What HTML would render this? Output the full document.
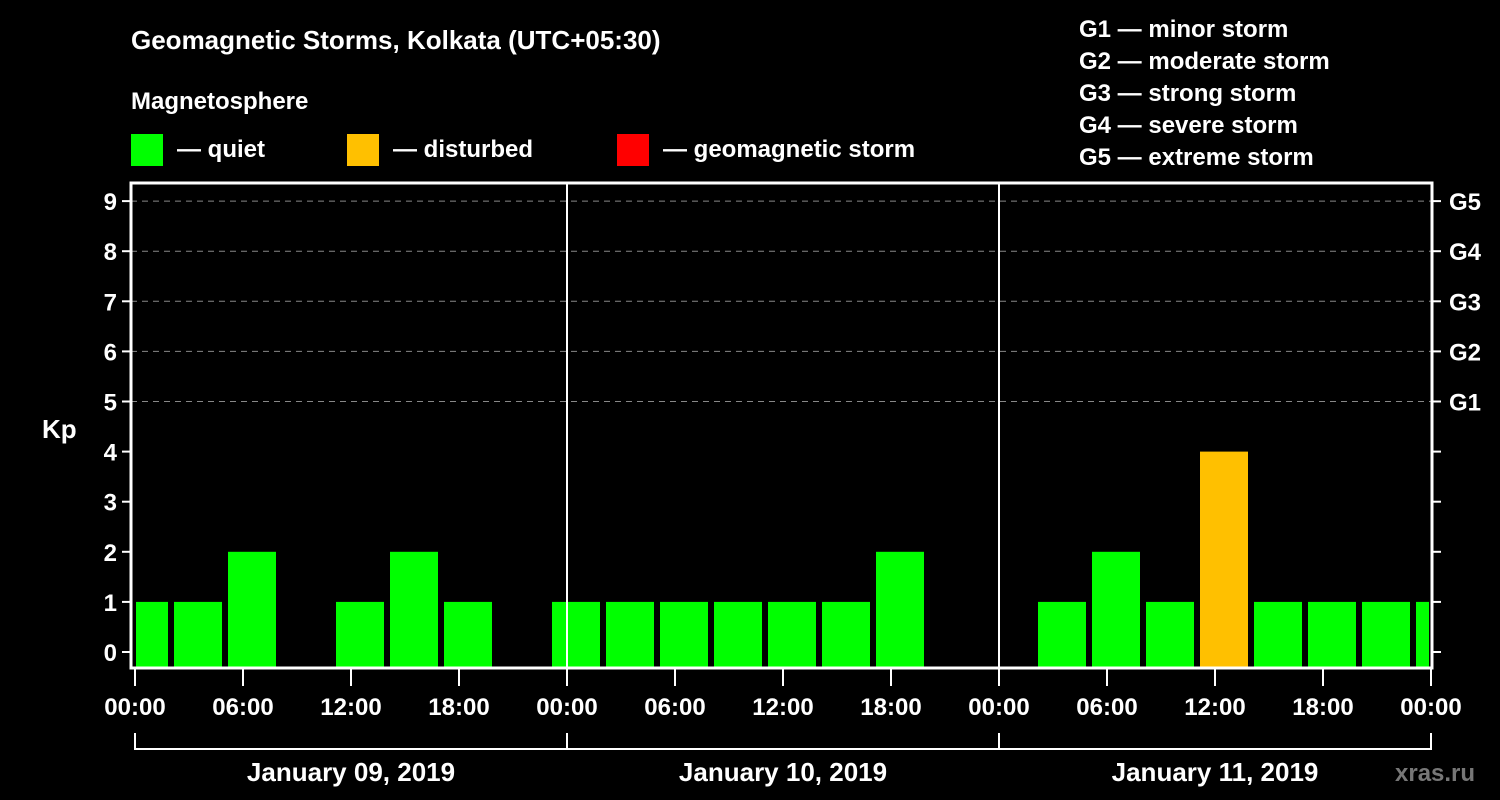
<!DOCTYPE html>
<html><head><meta charset="utf-8"><style>
html,body{margin:0;padding:0;background:#000;}
svg{display:block;font-family:"Liberation Sans",Arial,sans-serif;font-weight:bold;}
</style></head><body>
<svg id="chart" width="1500" height="800" viewBox="0 0 1500 800" xmlns="http://www.w3.org/2000/svg">
<rect x="0" y="0" width="1500" height="800" fill="#000"/>
<text x="131" y="49" fill="#fff" font-size="26">Geomagnetic Storms, Kolkata (UTC+05:30)</text>
<text x="131" y="109" fill="#fff" font-size="24">Magnetosphere</text>
<g><rect x="131" y="134" width="32" height="32" fill="#00ff00"/><text x="177" y="157" fill="#fff" font-size="24">— quiet</text></g>
<g><rect x="347" y="134" width="32" height="32" fill="#ffc000"/><text x="393" y="157" fill="#fff" font-size="24">— disturbed</text></g>
<g><rect x="617" y="134" width="32" height="32" fill="#ff0000"/><text x="663" y="157" fill="#fff" font-size="24">— geomagnetic storm</text></g>
<g fill="#fff" font-size="24">
<text x="1079" y="37">G1 — minor storm</text>
<text x="1079" y="69">G2 — moderate storm</text>
<text x="1079" y="101">G3 — strong storm</text>
<text x="1079" y="133">G4 — severe storm</text>
<text x="1079" y="165">G5 — extreme storm</text>
</g>
<text x="42" y="438" fill="#fff" font-size="26">Kp</text>
<text x="1395" y="781" fill="#777" font-size="24">xras.ru</text>
<g id="plot"></g>
</svg>
<script>
const kpValues = [1,1,2,0,1,2,1,0, 1,1,1,1,1,1,2,0,0, 1,2,1,4,1,1,1,1];
const startHour = -1; // first interval starts 1h before Jan 09 00:00 local
const stepHours = 3;
const dayLabels = ["January 09, 2019","January 10, 2019","January 11, 2019"];
const yTicks = [0,1,2,3,4,5,6,7,8,9];
const gLabels = ["G1","G2","G3","G4","G5"];
const gLevels = [5,6,7,8,9];
const xTickLabels = ["00:00","06:00","12:00","18:00"];

const NS="http://www.w3.org/2000/svg";
const plot=document.getElementById('plot');
const X0=135, DAYW=432, totalHours=72;
const xH=h=>X0+h*DAYW/24;
const yK=k=>652-k*50.1;
const L=131,R=1432,T=183,B=668;
function mk(tag,attrs,parent){const e=document.createElementNS(NS,tag);for(const k in attrs)e.setAttribute(k,attrs[k]);(parent||plot).appendChild(e);return e;}
function color(k){return k>=5?"#ff0000":(k>=4?"#ffc000":"#00ff00");}

// grid
gLevels.forEach(k=>{
  const l=mk('line',{x1:L,x2:R,y1:yK(k),y2:yK(k),stroke:'#888','stroke-width':1,'stroke-dasharray':'6,5'});
  
  
});
// bars
kpValues.forEach((v,i)=>{
  if(!v) return;
  let h0=startHour+i*stepHours, h1=h0+stepHours;
  let x0=xH(h0)+3, x1=xH(h1)-3;
  x0=Math.max(x0,xH(0)+1); x1=Math.min(x1,xH(totalHours)-2);
  const r=mk('rect',{x:x0,y:yK(v),width:x1-x0,height:B-yK(v),fill:color(v)});
  
  
});
// day separators
[1,2].forEach(d=>{
  const l=mk('line',{x1:xH(d*24),x2:xH(d*24),y1:T,y2:B,stroke:'#fff','stroke-width':2});
  
  
});
// frame
const fr=mk('rect',{x:L,y:T,width:R-L,height:B-T,fill:'none',stroke:'#fff','stroke-width':3});


// y ticks + labels
yTicks.forEach(k=>{
  const y=yK(k);
  mk('line',{x1:L-9,x2:L,y1:y,y2:y,stroke:'#fff','stroke-width':2});
  mk('line',{x1:R,x2:R+9,y1:y,y2:y,stroke:'#fff','stroke-width':2});
  const t=mk('text',{x:117,y:y+9,fill:'#fff','font-size':24,'text-anchor':'end'});
  t.textContent=k;
  
  
});
gLevels.forEach((k,i)=>{
  const t=mk('text',{x:1449,y:yK(k)+9,fill:'#fff','font-size':24});
  t.textContent=gLabels[i];
  
  
});
// x ticks
for(let h=0;h<=totalHours;h+=6){
  const x=xH(h);
  mk('line',{x1:x,x2:x,y1:B,y2:B+18,stroke:'#fff','stroke-width':2});
  const t=mk('text',{x:x,y:715,fill:'#fff','font-size':24,'text-anchor':'middle'});
  t.textContent=xTickLabels[(h/6)%4];
  
  
}
// day bracket
const br=mk('line',{x1:xH(0),x2:xH(totalHours),y1:749,y2:749,stroke:'#fff','stroke-width':2});


for(let d=0;d<=3;d++){mk('line',{x1:xH(d*24),x2:xH(d*24),y1:733,y2:750,stroke:'#fff','stroke-width':2});}
dayLabels.forEach((s,i)=>{
  const t=mk('text',{x:xH(i*24+12),y:781,fill:'#fff','font-size':26,'text-anchor':'middle'});
  t.textContent=s;
  
  
});
</script>
</body></html>
